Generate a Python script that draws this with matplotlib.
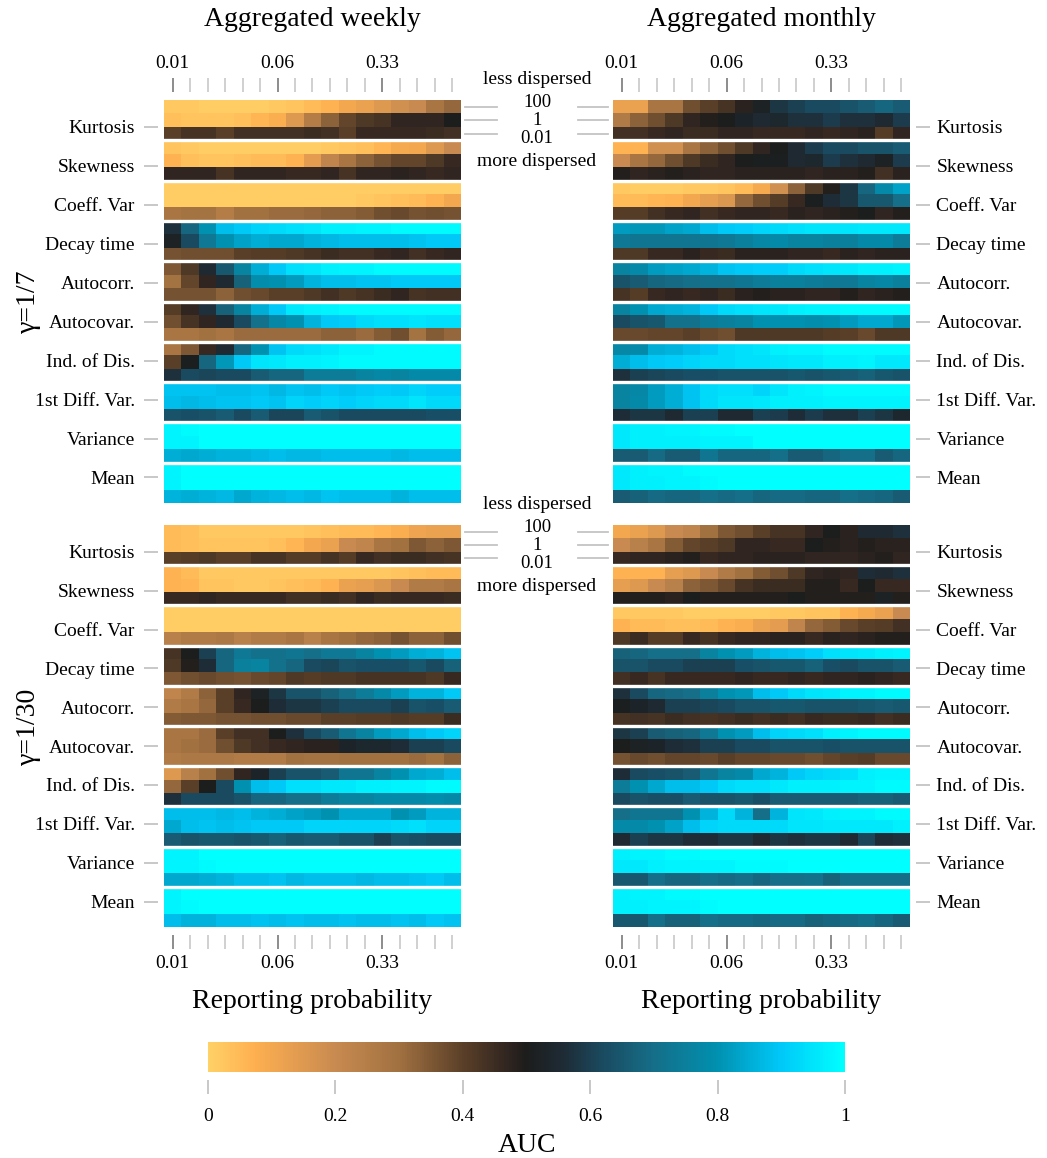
import numpy as np
import matplotlib
matplotlib.use("Agg")
import matplotlib.pyplot as plt
from matplotlib.colors import LinearSegmentedColormap
from matplotlib.cm import ScalarMappable
from matplotlib.transforms import blended_transform_factory

plt.rcParams["font.family"] = ["Liberation Serif", "DejaVu Serif"]

indicators = ["Kurtosis", "Skewness", "Coeff. Var", "Decay time", "Autocorr.",
              "Autocovar.", "Ind. of Dis.", "1st Diff. Var.", "Variance", "Mean"]
dispersion = ["100", "1", "0.01"]
prob_labels = ["0.01", "0.06", "0.33"]
prob_label_cols = [0, 6, 12]
n_probs = 17
col_titles = ["Aggregated weekly", "Aggregated monthly"]
row_titles = ["\u03b3=1/7", "\u03b3=1/30"]
cbar_ticks = [0, 0.2, 0.4, 0.6, 0.8, 1]
cbar_labels = ["0", "0.2", "0.4", "0.6", "0.8", "1"]

# AUC, rows = indicator x dispersion (100, 1, 0.01), cols = reporting probability
weekly_g7 = [
    [0.02, 0.02, 0.01, 0.01, 0.01, 0.01, 0.02, 0.03, 0.05, 0.07, 0.10, 0.12, 0.15, 0.18, 0.20, 0.28, 0.32],
    [0.04, 0.03, 0.03, 0.03, 0.04, 0.06, 0.08, 0.15, 0.25, 0.33, 0.39, 0.42, 0.43, 0.47, 0.47, 0.47, 0.50],
    [0.40, 0.43, 0.43, 0.40, 0.44, 0.44, 0.44, 0.44, 0.45, 0.44, 0.40, 0.46, 0.46, 0.46, 0.46, 0.45, 0.44],
    [0.03, 0.02, 0.01, 0.01, 0.01, 0.01, 0.01, 0.01, 0.01, 0.02, 0.03, 0.04, 0.06, 0.09, 0.10, 0.15, 0.20],
    [0.07, 0.04, 0.03, 0.03, 0.04, 0.05, 0.05, 0.07, 0.14, 0.22, 0.28, 0.33, 0.36, 0.39, 0.39, 0.42, 0.46],
    [0.47, 0.47, 0.47, 0.43, 0.47, 0.47, 0.47, 0.46, 0.46, 0.47, 0.43, 0.47, 0.47, 0.48, 0.47, 0.46, 0.47],
    [0.01, 0.01, 0.01, 0.01, 0.01, 0.01, 0.01, 0.01, 0.01, 0.01, 0.01, 0.01, 0.01, 0.01, 0.01, 0.01, 0.01],
    [0.01, 0.01, 0.01, 0.01, 0.01, 0.01, 0.01, 0.01, 0.01, 0.01, 0.01, 0.02, 0.03, 0.04, 0.05, 0.07, 0.10],
    [0.28, 0.29, 0.29, 0.25, 0.30, 0.30, 0.31, 0.31, 0.32, 0.33, 0.33, 0.34, 0.37, 0.38, 0.36, 0.37, 0.36],
    [0.57, 0.68, 0.80, 0.88, 0.90, 0.92, 0.93, 0.94, 0.95, 0.97, 0.97, 0.98, 0.98, 0.99, 0.99, 0.99, 0.99],
    [0.52, 0.62, 0.73, 0.80, 0.83, 0.85, 0.84, 0.84, 0.86, 0.87, 0.88, 0.88, 0.88, 0.88, 0.89, 0.90, 0.90],
    [0.36, 0.37, 0.37, 0.37, 0.40, 0.41, 0.41, 0.42, 0.43, 0.45, 0.44, 0.44, 0.46, 0.47, 0.44, 0.46, 0.47],
    [0.35, 0.42, 0.55, 0.65, 0.76, 0.85, 0.90, 0.94, 0.95, 0.97, 0.98, 0.98, 0.99, 0.99, 0.99, 0.99, 0.99],
    [0.29, 0.39, 0.47, 0.55, 0.67, 0.79, 0.80, 0.82, 0.86, 0.88, 0.88, 0.89, 0.89, 0.90, 0.90, 0.90, 0.90],
    [0.36, 0.36, 0.36, 0.33, 0.37, 0.38, 0.40, 0.40, 0.42, 0.44, 0.42, 0.43, 0.45, 0.47, 0.43, 0.44, 0.44],
    [0.41, 0.47, 0.57, 0.67, 0.76, 0.85, 0.90, 0.96, 0.97, 0.98, 0.99, 0.99, 0.99, 0.99, 0.99, 0.99, 0.99],
    [0.37, 0.43, 0.47, 0.55, 0.62, 0.71, 0.77, 0.80, 0.86, 0.90, 0.91, 0.93, 0.94, 0.94, 0.95, 0.94, 0.94],
    [0.28, 0.28, 0.30, 0.28, 0.31, 0.31, 0.31, 0.31, 0.31, 0.33, 0.33, 0.31, 0.34, 0.37, 0.29, 0.34, 0.32],
    [0.28, 0.35, 0.46, 0.55, 0.68, 0.80, 0.89, 0.93, 0.94, 0.96, 0.98, 0.98, 0.99, 0.99, 0.99, 0.99, 0.99],
    [0.40, 0.51, 0.68, 0.81, 0.90, 0.95, 0.96, 0.97, 0.97, 0.98, 0.99, 0.99, 0.99, 0.99, 0.99, 0.99, 0.99],
    [0.57, 0.62, 0.61, 0.62, 0.62, 0.66, 0.68, 0.68, 0.74, 0.74, 0.74, 0.76, 0.77, 0.76, 0.78, 0.78, 0.78],
    [0.89, 0.89, 0.89, 0.88, 0.88, 0.89, 0.87, 0.89, 0.88, 0.90, 0.89, 0.90, 0.91, 0.90, 0.92, 0.91, 0.91],
    [0.88, 0.87, 0.88, 0.89, 0.89, 0.90, 0.89, 0.92, 0.91, 0.92, 0.91, 0.92, 0.93, 0.93, 0.95, 0.93, 0.93],
    [0.64, 0.63, 0.64, 0.66, 0.62, 0.66, 0.61, 0.61, 0.66, 0.64, 0.62, 0.62, 0.62, 0.62, 0.62, 0.63, 0.63],
    [0.98, 0.99, 1.00, 1.00, 1.00, 1.00, 1.00, 1.00, 1.00, 1.00, 1.00, 1.00, 1.00, 1.00, 1.00, 1.00, 1.00],
    [0.98, 0.98, 1.00, 1.00, 1.00, 1.00, 1.00, 1.00, 1.00, 1.00, 1.00, 1.00, 1.00, 1.00, 1.00, 1.00, 1.00],
    [0.85, 0.84, 0.85, 0.86, 0.86, 0.87, 0.88, 0.87, 0.87, 0.88, 0.88, 0.88, 0.88, 0.87, 0.88, 0.88, 0.88],
    [0.98, 1.00, 1.00, 1.00, 1.00, 1.00, 1.00, 1.00, 1.00, 1.00, 1.00, 1.00, 1.00, 1.00, 1.00, 1.00, 1.00],
    [0.98, 1.00, 1.00, 1.00, 1.00, 1.00, 1.00, 1.00, 1.00, 1.00, 1.00, 1.00, 1.00, 1.00, 1.00, 1.00, 1.00],
    [0.86, 0.85, 0.86, 0.87, 0.84, 0.86, 0.87, 0.88, 0.87, 0.89, 0.88, 0.88, 0.88, 0.86, 0.88, 0.88, 0.88],
]

monthly_g7 = [
    [0.12, 0.12, 0.28, 0.28, 0.37, 0.40, 0.43, 0.48, 0.52, 0.58, 0.60, 0.62, 0.62, 0.64, 0.66, 0.68, 0.66],
    [0.26, 0.33, 0.37, 0.42, 0.47, 0.49, 0.50, 0.53, 0.55, 0.54, 0.57, 0.57, 0.59, 0.57, 0.57, 0.55, 0.59],
    [0.44, 0.44, 0.46, 0.47, 0.45, 0.45, 0.47, 0.47, 0.46, 0.46, 0.46, 0.47, 0.46, 0.47, 0.48, 0.41, 0.47],
    [0.07, 0.07, 0.18, 0.18, 0.28, 0.33, 0.37, 0.42, 0.47, 0.50, 0.55, 0.59, 0.62, 0.62, 0.64, 0.64, 0.66],
    [0.20, 0.28, 0.32, 0.37, 0.42, 0.45, 0.47, 0.50, 0.51, 0.51, 0.55, 0.54, 0.59, 0.57, 0.55, 0.52, 0.59],
    [0.49, 0.47, 0.48, 0.49, 0.48, 0.47, 0.47, 0.48, 0.48, 0.48, 0.48, 0.47, 0.48, 0.48, 0.49, 0.44, 0.48],
    [0.02, 0.01, 0.01, 0.01, 0.02, 0.02, 0.03, 0.05, 0.09, 0.18, 0.33, 0.42, 0.49, 0.58, 0.68, 0.78, 0.83],
    [0.05, 0.05, 0.06, 0.07, 0.10, 0.13, 0.16, 0.32, 0.37, 0.41, 0.46, 0.51, 0.56, 0.58, 0.65, 0.65, 0.70],
    [0.41, 0.41, 0.44, 0.46, 0.47, 0.44, 0.46, 0.47, 0.47, 0.46, 0.48, 0.47, 0.48, 0.49, 0.50, 0.47, 0.49],
    [0.82, 0.81, 0.81, 0.83, 0.84, 0.88, 0.90, 0.91, 0.92, 0.93, 0.94, 0.95, 0.95, 0.95, 0.96, 0.96, 0.96],
    [0.73, 0.72, 0.72, 0.72, 0.72, 0.72, 0.73, 0.75, 0.77, 0.78, 0.76, 0.76, 0.75, 0.75, 0.78, 0.78, 0.74],
    [0.42, 0.42, 0.46, 0.46, 0.48, 0.46, 0.45, 0.48, 0.48, 0.48, 0.47, 0.47, 0.46, 0.48, 0.47, 0.48, 0.48],
    [0.76, 0.78, 0.82, 0.83, 0.84, 0.86, 0.89, 0.90, 0.91, 0.91, 0.93, 0.94, 0.95, 0.96, 0.97, 0.97, 0.98],
    [0.64, 0.66, 0.68, 0.69, 0.70, 0.71, 0.71, 0.72, 0.74, 0.75, 0.75, 0.74, 0.73, 0.73, 0.76, 0.77, 0.75],
    [0.43, 0.41, 0.46, 0.47, 0.46, 0.47, 0.45, 0.48, 0.49, 0.48, 0.48, 0.47, 0.47, 0.49, 0.47, 0.48, 0.49],
    [0.76, 0.80, 0.84, 0.85, 0.86, 0.90, 0.93, 0.94, 0.95, 0.96, 0.97, 0.98, 0.98, 0.99, 0.99, 0.99, 0.99],
    [0.62, 0.64, 0.65, 0.71, 0.71, 0.74, 0.75, 0.76, 0.80, 0.80, 0.80, 0.79, 0.80, 0.82, 0.84, 0.84, 0.81],
    [0.38, 0.38, 0.39, 0.39, 0.40, 0.38, 0.37, 0.42, 0.42, 0.42, 0.42, 0.42, 0.41, 0.40, 0.38, 0.42, 0.42],
    [0.77, 0.78, 0.85, 0.86, 0.88, 0.90, 0.93, 0.94, 0.95, 0.97, 0.98, 0.98, 0.99, 0.99, 0.99, 0.99, 0.99],
    [0.85, 0.88, 0.90, 0.91, 0.92, 0.93, 0.93, 0.94, 0.94, 0.95, 0.96, 0.96, 0.97, 0.97, 0.98, 0.96, 0.96],
    [0.57, 0.60, 0.61, 0.62, 0.63, 0.63, 0.64, 0.64, 0.64, 0.64, 0.65, 0.64, 0.65, 0.66, 0.67, 0.65, 0.64],
    [0.76, 0.77, 0.82, 0.85, 0.89, 0.93, 0.94, 0.94, 0.92, 0.95, 0.97, 0.98, 0.99, 0.99, 0.99, 0.99, 0.99],
    [0.76, 0.78, 0.82, 0.85, 0.89, 0.93, 0.95, 0.95, 0.96, 0.97, 0.97, 0.97, 0.98, 0.98, 0.98, 0.98, 0.98],
    [0.56, 0.58, 0.58, 0.55, 0.60, 0.60, 0.55, 0.55, 0.60, 0.59, 0.56, 0.59, 0.57, 0.57, 0.60, 0.58, 0.54],
    [0.96, 0.97, 0.97, 0.98, 0.98, 0.99, 0.99, 1.00, 1.00, 1.00, 1.00, 1.00, 1.00, 1.00, 1.00, 1.00, 1.00],
    [0.96, 0.97, 0.97, 0.97, 0.97, 0.98, 0.98, 0.98, 1.00, 1.00, 1.00, 1.00, 1.00, 1.00, 1.00, 1.00, 1.00],
    [0.66, 0.66, 0.69, 0.66, 0.66, 0.72, 0.68, 0.68, 0.68, 0.70, 0.66, 0.66, 0.68, 0.70, 0.70, 0.66, 0.68],
    [0.96, 0.97, 0.98, 0.98, 0.99, 1.00, 1.00, 1.00, 1.00, 1.00, 1.00, 1.00, 1.00, 1.00, 1.00, 1.00, 1.00],
    [0.96, 0.97, 0.97, 0.98, 0.98, 0.99, 1.00, 1.00, 1.00, 1.00, 1.00, 1.00, 1.00, 1.00, 1.00, 1.00, 1.00],
    [0.66, 0.67, 0.69, 0.68, 0.68, 0.70, 0.69, 0.70, 0.68, 0.69, 0.69, 0.68, 0.68, 0.70, 0.69, 0.68, 0.66],
]

weekly_g30 = [
    [0.05, 0.04, 0.02, 0.02, 0.02, 0.02, 0.02, 0.02, 0.03, 0.04, 0.05, 0.05, 0.06, 0.08, 0.11, 0.12, 0.12],
    [0.05, 0.04, 0.03, 0.03, 0.03, 0.03, 0.04, 0.06, 0.10, 0.12, 0.20, 0.22, 0.28, 0.30, 0.35, 0.33, 0.35],
    [0.40, 0.41, 0.42, 0.40, 0.40, 0.43, 0.43, 0.41, 0.41, 0.43, 0.41, 0.46, 0.44, 0.45, 0.45, 0.44, 0.43],
    [0.07, 0.05, 0.02, 0.02, 0.02, 0.02, 0.02, 0.02, 0.02, 0.02, 0.02, 0.02, 0.02, 0.03, 0.04, 0.05, 0.05],
    [0.07, 0.06, 0.03, 0.03, 0.02, 0.02, 0.03, 0.04, 0.05, 0.07, 0.12, 0.13, 0.16, 0.20, 0.26, 0.26, 0.28],
    [0.46, 0.46, 0.47, 0.46, 0.46, 0.46, 0.46, 0.44, 0.44, 0.45, 0.44, 0.47, 0.45, 0.46, 0.46, 0.46, 0.45],
    [0.01, 0.01, 0.01, 0.01, 0.01, 0.01, 0.01, 0.01, 0.01, 0.01, 0.01, 0.01, 0.01, 0.01, 0.01, 0.01, 0.01],
    [0.01, 0.01, 0.01, 0.01, 0.01, 0.01, 0.01, 0.01, 0.01, 0.01, 0.01, 0.01, 0.01, 0.01, 0.01, 0.01, 0.01],
    [0.24, 0.26, 0.26, 0.27, 0.24, 0.26, 0.26, 0.28, 0.24, 0.28, 0.30, 0.32, 0.33, 0.36, 0.33, 0.33, 0.37],
    [0.43, 0.50, 0.60, 0.68, 0.73, 0.71, 0.71, 0.72, 0.70, 0.73, 0.73, 0.76, 0.80, 0.82, 0.85, 0.86, 0.89],
    [0.42, 0.49, 0.56, 0.68, 0.75, 0.76, 0.71, 0.68, 0.62, 0.61, 0.64, 0.63, 0.63, 0.63, 0.65, 0.62, 0.67],
    [0.35, 0.37, 0.38, 0.37, 0.36, 0.38, 0.39, 0.42, 0.41, 0.42, 0.42, 0.43, 0.43, 0.43, 0.43, 0.42, 0.46],
    [0.22, 0.26, 0.33, 0.40, 0.47, 0.52, 0.58, 0.64, 0.64, 0.67, 0.70, 0.74, 0.78, 0.82, 0.86, 0.86, 0.90],
    [0.26, 0.28, 0.32, 0.40, 0.46, 0.50, 0.56, 0.58, 0.58, 0.60, 0.62, 0.62, 0.62, 0.60, 0.64, 0.63, 0.66],
    [0.34, 0.35, 0.35, 0.36, 0.36, 0.37, 0.37, 0.38, 0.38, 0.40, 0.40, 0.41, 0.41, 0.42, 0.41, 0.41, 0.45],
    [0.28, 0.28, 0.31, 0.40, 0.44, 0.44, 0.50, 0.57, 0.62, 0.66, 0.72, 0.76, 0.82, 0.84, 0.88, 0.90, 0.92],
    [0.28, 0.30, 0.31, 0.37, 0.42, 0.44, 0.46, 0.47, 0.48, 0.48, 0.53, 0.54, 0.54, 0.56, 0.60, 0.60, 0.62],
    [0.26, 0.27, 0.27, 0.27, 0.26, 0.26, 0.26, 0.30, 0.29, 0.29, 0.30, 0.30, 0.30, 0.30, 0.31, 0.29, 0.33],
    [0.15, 0.24, 0.30, 0.37, 0.47, 0.53, 0.60, 0.64, 0.64, 0.66, 0.72, 0.72, 0.76, 0.80, 0.84, 0.85, 0.88],
    [0.32, 0.40, 0.50, 0.62, 0.80, 0.88, 0.90, 0.94, 0.94, 0.96, 0.96, 0.97, 0.97, 0.98, 0.98, 0.99, 0.99],
    [0.57, 0.62, 0.62, 0.62, 0.64, 0.68, 0.68, 0.70, 0.70, 0.74, 0.76, 0.76, 0.78, 0.78, 0.78, 0.79, 0.78],
    [0.88, 0.88, 0.88, 0.87, 0.88, 0.86, 0.85, 0.83, 0.82, 0.80, 0.84, 0.84, 0.84, 0.80, 0.82, 0.86, 0.86],
    [0.84, 0.88, 0.89, 0.88, 0.89, 0.90, 0.90, 0.90, 0.92, 0.92, 0.92, 0.92, 0.92, 0.93, 0.94, 0.92, 0.92],
    [0.66, 0.64, 0.65, 0.65, 0.64, 0.65, 0.67, 0.65, 0.66, 0.66, 0.64, 0.64, 0.60, 0.64, 0.63, 0.62, 0.62],
    [0.98, 0.98, 1.00, 1.00, 1.00, 1.00, 1.00, 1.00, 1.00, 1.00, 1.00, 1.00, 1.00, 1.00, 1.00, 1.00, 1.00],
    [0.98, 0.98, 0.99, 1.00, 1.00, 1.00, 1.00, 1.00, 1.00, 1.00, 1.00, 1.00, 1.00, 1.00, 1.00, 1.00, 1.00],
    [0.84, 0.84, 0.85, 0.86, 0.88, 0.88, 0.89, 0.87, 0.88, 0.88, 0.88, 0.87, 0.88, 0.88, 0.89, 0.90, 0.88],
    [0.98, 1.00, 1.00, 1.00, 1.00, 1.00, 1.00, 1.00, 1.00, 1.00, 1.00, 1.00, 1.00, 1.00, 1.00, 1.00, 1.00],
    [0.98, 0.99, 1.00, 1.00, 1.00, 1.00, 1.00, 1.00, 1.00, 1.00, 1.00, 1.00, 1.00, 1.00, 1.00, 1.00, 1.00],
    [0.88, 0.86, 0.86, 0.88, 0.88, 0.89, 0.88, 0.89, 0.88, 0.88, 0.89, 0.88, 0.88, 0.89, 0.88, 0.90, 0.89],
]

monthly_g30 = [
    [0.10, 0.12, 0.15, 0.20, 0.22, 0.30, 0.35, 0.37, 0.40, 0.43, 0.43, 0.47, 0.50, 0.48, 0.55, 0.55, 0.57],
    [0.20, 0.24, 0.28, 0.34, 0.39, 0.40, 0.42, 0.47, 0.47, 0.46, 0.46, 0.50, 0.49, 0.48, 0.49, 0.48, 0.48],
    [0.46, 0.47, 0.47, 0.48, 0.49, 0.46, 0.47, 0.47, 0.48, 0.48, 0.48, 0.47, 0.47, 0.47, 0.48, 0.49, 0.47],
    [0.07, 0.07, 0.07, 0.13, 0.15, 0.20, 0.26, 0.30, 0.34, 0.37, 0.42, 0.47, 0.48, 0.47, 0.56, 0.55, 0.57],
    [0.13, 0.15, 0.20, 0.24, 0.33, 0.35, 0.38, 0.43, 0.45, 0.45, 0.45, 0.49, 0.49, 0.46, 0.50, 0.46, 0.46],
    [0.49, 0.49, 0.49, 0.48, 0.50, 0.49, 0.49, 0.49, 0.49, 0.49, 0.50, 0.49, 0.49, 0.49, 0.49, 0.52, 0.49],
    [0.02, 0.02, 0.02, 0.02, 0.01, 0.01, 0.01, 0.01, 0.01, 0.02, 0.02, 0.03, 0.03, 0.07, 0.09, 0.12, 0.20],
    [0.07, 0.05, 0.05, 0.04, 0.04, 0.05, 0.07, 0.08, 0.12, 0.14, 0.22, 0.32, 0.34, 0.38, 0.40, 0.41, 0.44],
    [0.42, 0.45, 0.41, 0.41, 0.46, 0.43, 0.46, 0.47, 0.47, 0.48, 0.48, 0.46, 0.48, 0.47, 0.48, 0.49, 0.49],
    [0.67, 0.68, 0.70, 0.70, 0.70, 0.76, 0.80, 0.82, 0.86, 0.88, 0.89, 0.91, 0.94, 0.95, 0.96, 0.97, 0.98],
    [0.64, 0.64, 0.62, 0.62, 0.60, 0.60, 0.60, 0.63, 0.64, 0.65, 0.65, 0.67, 0.63, 0.62, 0.64, 0.64, 0.66],
    [0.44, 0.46, 0.43, 0.46, 0.46, 0.46, 0.46, 0.47, 0.46, 0.46, 0.47, 0.46, 0.47, 0.47, 0.48, 0.47, 0.46],
    [0.57, 0.62, 0.68, 0.69, 0.70, 0.75, 0.80, 0.81, 0.88, 0.90, 0.93, 0.95, 0.96, 0.98, 0.98, 0.99, 0.99],
    [0.51, 0.53, 0.55, 0.60, 0.60, 0.61, 0.62, 0.64, 0.64, 0.65, 0.65, 0.64, 0.64, 0.64, 0.65, 0.66, 0.65],
    [0.43, 0.44, 0.43, 0.45, 0.44, 0.43, 0.44, 0.45, 0.44, 0.45, 0.44, 0.46, 0.45, 0.45, 0.46, 0.44, 0.45],
    [0.58, 0.60, 0.66, 0.67, 0.68, 0.73, 0.80, 0.82, 0.88, 0.92, 0.93, 0.94, 0.97, 0.98, 0.99, 0.99, 0.99],
    [0.50, 0.52, 0.53, 0.56, 0.57, 0.60, 0.60, 0.62, 0.62, 0.64, 0.64, 0.64, 0.63, 0.64, 0.64, 0.64, 0.64],
    [0.36, 0.38, 0.37, 0.39, 0.39, 0.38, 0.40, 0.39, 0.39, 0.38, 0.38, 0.37, 0.39, 0.40, 0.41, 0.38, 0.38],
    [0.56, 0.62, 0.63, 0.64, 0.66, 0.72, 0.76, 0.78, 0.84, 0.86, 0.90, 0.92, 0.93, 0.94, 0.97, 0.98, 0.98],
    [0.74, 0.80, 0.84, 0.88, 0.88, 0.90, 0.93, 0.94, 0.94, 0.96, 0.97, 0.97, 0.97, 0.98, 0.98, 0.99, 0.99],
    [0.62, 0.64, 0.63, 0.63, 0.66, 0.64, 0.64, 0.65, 0.63, 0.66, 0.66, 0.66, 0.66, 0.66, 0.67, 0.67, 0.66],
    [0.70, 0.72, 0.72, 0.72, 0.80, 0.86, 0.93, 0.86, 0.70, 0.86, 0.95, 0.96, 0.97, 0.98, 0.98, 0.99, 0.99],
    [0.78, 0.78, 0.80, 0.83, 0.88, 0.92, 0.93, 0.93, 0.93, 0.93, 0.95, 0.95, 0.96, 0.96, 0.96, 0.96, 0.97],
    [0.55, 0.60, 0.58, 0.58, 0.56, 0.56, 0.58, 0.58, 0.55, 0.58, 0.57, 0.58, 0.58, 0.55, 0.61, 0.56, 0.57],
    [0.97, 0.98, 0.98, 0.99, 0.99, 1.00, 1.00, 1.00, 1.00, 1.00, 1.00, 1.00, 1.00, 1.00, 1.00, 1.00, 1.00],
    [0.96, 0.96, 0.97, 0.98, 0.98, 0.98, 0.98, 0.99, 0.99, 0.99, 1.00, 1.00, 1.00, 1.00, 1.00, 1.00, 1.00],
    [0.65, 0.65, 0.70, 0.68, 0.68, 0.70, 0.69, 0.70, 0.68, 0.70, 0.70, 0.71, 0.67, 0.70, 0.70, 0.70, 0.70],
    [0.97, 0.98, 0.98, 0.99, 0.99, 1.00, 1.00, 1.00, 1.00, 1.00, 1.00, 1.00, 1.00, 1.00, 1.00, 1.00, 1.00],
    [0.97, 0.97, 0.98, 0.98, 0.98, 0.99, 1.00, 1.00, 1.00, 1.00, 1.00, 1.00, 1.00, 1.00, 1.00, 1.00, 1.00],
    [0.65, 0.65, 0.70, 0.67, 0.67, 0.70, 0.69, 0.69, 0.68, 0.69, 0.69, 0.67, 0.68, 0.69, 0.70, 0.68, 0.66],
]

cmap = LinearSegmentedColormap.from_list("auc", [
    (0.00, "#FFD166"), (0.07, "#FFB050"), (0.20, "#C88A50"), (0.30, "#A07040"),
    (0.40, "#5A3F28"), (0.47, "#302520"), (0.50, "#1C1C1C"), (0.56, "#1E2C36"),
    (0.62, "#1A4A60"), (0.70, "#156E88"), (0.80, "#0090B0"), (0.90, "#00C8F8"),
    (1.00, "#00FFFF"),
])

W, H = 1047, 1158
fig = plt.figure(figsize=(W / 100, H / 100), dpi=100)


def px_rect(x0, y0, x1, y1):
    return [x0 / W, 1 - y1 / H, (x1 - x0) / W, (y1 - y0) / H]


rects = [
    [px_rect(164, 100, 461, 503), px_rect(613, 100, 910, 503)],
    [px_rect(164, 525, 461, 927), px_rect(613, 525, 910, 927)],
]
panels = [[weekly_g7, monthly_g7], [weekly_g30, monthly_g30]]
n_rows = len(indicators) * len(dispersion)
tick_pos = np.linspace(2.0, 28.1, len(indicators))
disp_text_y = [0.15, 1.5, 2.85]
light, dark = "#C4C4C4", "#8C8C8C"

axes = {}
for r in range(2):
    for c in range(2):
        ax = fig.add_axes(rects[r][c])
        axes[r, c] = ax
        m = np.array(panels[r][c])
        ax.pcolormesh(np.arange(n_probs + 1), np.arange(n_rows + 1), m,
                      cmap=cmap, vmin=0, vmax=1, edgecolor="face", linewidth=0)
        ax.set_xlim(0, n_probs)
        ax.set_ylim(n_rows, 0)
        for b in range(len(dispersion), n_rows, len(dispersion)):
            ax.axhline(b, color="white", lw=2.4)
        for s in ax.spines.values():
            s.set_visible(False)

        side = "top" if r == 0 else "bottom"
        ax.spines[side].set_position(("outward", 6))
        ax.xaxis.set_ticks_position(side)
        ax.set_xticks(np.arange(n_probs) + 0.5, minor=True)
        ax.set_xticks(np.array(prob_label_cols) + 0.5)
        ax.set_xticklabels(prob_labels)
        ax.tick_params(axis="x", which="major", length=10, width=1.4, color=dark,
                       labelsize=14, pad=4)
        ax.tick_params(axis="x", which="minor", length=10, width=1.1, color=light)

        yside = "left" if c == 0 else "right"
        ax.spines[yside].set_position(("outward", 4))
        ax.yaxis.set_ticks_position(yside)
        ax.set_yticks(tick_pos)
        ax.set_yticklabels(indicators)
        ax.tick_params(axis="y", length=10, width=1.3, color=light, labelsize=14,
                       pad=7 if c == 0 else 5)

        x = rects[r][c][0] + rects[r][c][2] / 2
        if r == 0:
            fig.text(x, 1 - 20 / H, col_titles[c], ha="center", va="center", size=20)
        else:
            fig.text(x, 1 - 1002 / H, "Reporting probability", ha="center",
                     va="center", size=20)

    # gamma label and dispersion legend between the panels
    axl, axr = axes[r, 0], axes[r, 1]
    yc = rects[r][0][1] + rects[r][0][3] / 2
    fig.text(28 / W, yc, row_titles[r], rotation=90, ha="center", va="center", size=20)
    xmid = (rects[r][0][0] + rects[r][0][2] + rects[r][1][0]) / 2
    tr = blended_transform_factory(fig.transFigure, axl.transData)
    axl.text(xmid, -1.5, "less dispersed", transform=tr, ha="center", va="center", size=14)
    axl.text(xmid, 4.6, "more dispersed", transform=tr, ha="center", va="center", size=14)
    tl = blended_transform_factory(axl.transAxes, axl.transData)
    trr = blended_transform_factory(axr.transAxes, axr.transData)
    for k, lab in enumerate(dispersion):
        axl.text(xmid, disp_text_y[k], lab, transform=tr, ha="center", va="center",
                 size=13.5)
        axl.plot([1.013, 1.12], [k + 0.5, k + 0.5], transform=tl, color=light,
                 lw=1.3, clip_on=False)
        axr.plot([-0.118, -0.017], [k + 0.5, k + 0.5], transform=trr, color=light,
                 lw=1.3, clip_on=False)

# colour bar
cax = fig.add_axes(px_rect(208, 1042, 845, 1072))
sm = ScalarMappable(cmap=cmap)
sm.set_clim(0, 1)
cb = fig.colorbar(sm, cax=cax, orientation="horizontal")
cb.outline.set_visible(False)
cb.set_ticks(cbar_ticks, labels=cbar_labels)
cax.spines["bottom"].set_position(("outward", 6))
cax.tick_params(axis="x", length=10, width=1.3, color=light, labelsize=14, pad=10)
cax.xaxis.set_minor_locator(matplotlib.ticker.NullLocator())
fig.text(527 / W, 1 - 1145 / H, "AUC", ha="center", va="center", size=20)

fig.savefig("out.png", dpi=100)
